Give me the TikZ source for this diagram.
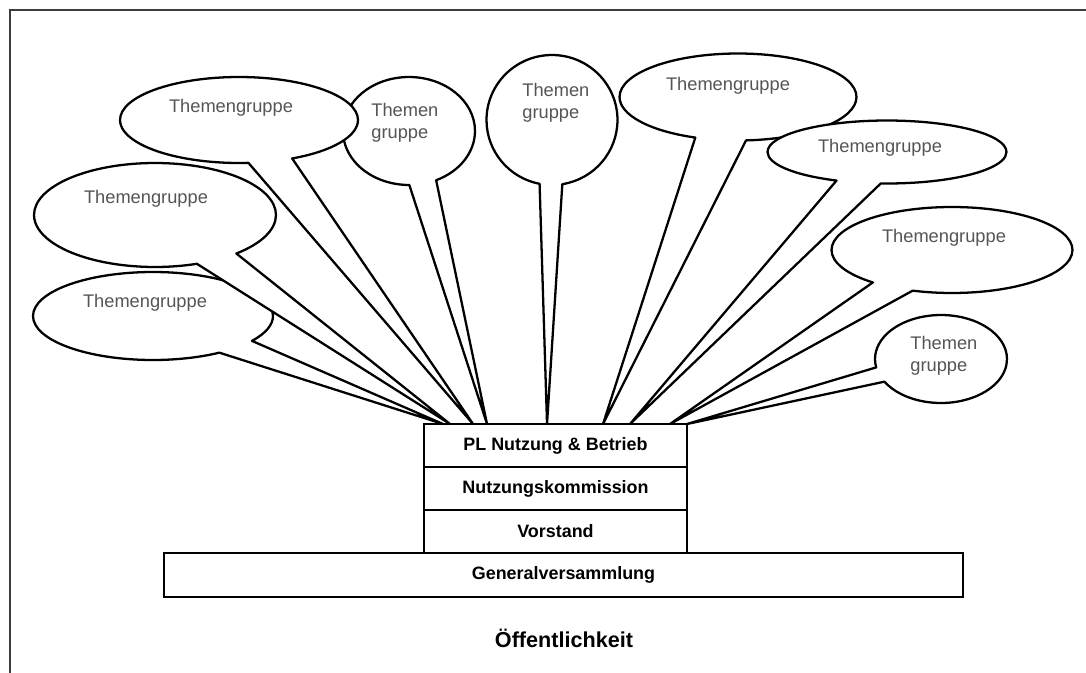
\documentclass[tikz,border=0pt]{standalone}
\usepackage{fontspec}
\setmainfont{Liberation Sans}
\usepackage{tikz}
\usetikzlibrary{shapes.callouts, positioning, calc}
\definecolor{tggray}{RGB}{85,85,85}
\definecolor{framegray}{RGB}{60,60,60}

\begin{document}
\begin{tikzpicture}[
    x=0.02cm, y=-0.02cm,
    topic/.style={ellipse callout, draw, fill=white, line width=1.3pt, line join=round},
    topictext/.style={inner sep=0pt, align=left, text=tggray, font=\fontsize{10.4}{12.5}\selectfont},
    level/.style={draw, line width=1.2pt, outer sep=0pt, minimum width=5.26cm, minimum height=0.86cm, font=\fontsize{10.2}{12}\selectfont\bfseries}
]
    \useasboundingbox (0,0) rectangle (1086,673);
    % Frame
    \draw[line width=1.2pt, framegray] (10,673) -- (10,10) -- (1086,10);

    % Levels
    \node[level] (pl) at (555.5,445.5) {PL Nutzung \& Betrieb};
    \node[level, below=0pt of pl] (nk) {Nutzungskommission};
    \node[level, below=0pt of nk] (vs) {Vorstand};
    \node[level, below=0pt of vs, xshift=0.16cm, minimum width=15.98cm, minimum height=0.88cm] (gv) {Generalversammlung};
    \node[font=\fontsize{12.3}{14}\selectfont\bfseries] (oe) at (564,638) {Öffentlichkeit};

    % Themengruppen, left side
    \node[topic, minimum width=4.8cm, minimum height=1.76cm, callout pointer arc=22,
        callout absolute pointer={($(pl.north west)+(19,0)$)}] (tgA) at (153,316) {};
    \node[topictext] (tgAtext) at (145,303) {Themengruppe};

    \node[topic, minimum width=4.84cm, minimum height=2.08cm, callout pointer arc=22,
        callout absolute pointer={($(pl.north west)+(26,0)$)}] (tgB) at (155,215) {};
    \node[topictext] (tgBtext) at (146,199) {Themengruppe};

    \node[topic, minimum width=2.64cm, minimum height=2.16cm, callout pointer arc=24,
        callout absolute pointer={($(pl.north west)+(63,0)$)}] (tgD) at (409,131) {};
    \node[topictext, anchor=west] (tgDtext) at (371,123) {Themen\\gruppe};

    \node[topic, minimum width=4.76cm, minimum height=1.72cm, callout pointer arc=22,
        callout absolute pointer={($(pl.north west)+(49,0)$)}] (tgC) at (239,120) {};
    \node[topictext] (tgCtext) at (231,108) {Themengruppe};

    % Themengruppen, middle and right side
    \node[topic, minimum width=2.62cm, minimum height=2.6cm, callout pointer arc=20,
        callout absolute pointer={($(pl.north west)+(123,0)$)}] (tgE) at (552,120) {};
    \node[topictext, anchor=west] (tgEtext) at (522,102.5) {Themen\\gruppe};

    \node[topic, minimum width=4.74cm, minimum height=1.74cm, callout pointer arc=25,
        callout absolute pointer={($(pl.north west)+(179,0)$)}] (tgF) at (738,97) {};
    \node[topictext] (tgFtext) at (728,86) {Themengruppe};

    \node[topic, minimum width=4.78cm, minimum height=1.26cm, callout pointer arc=22,
        callout absolute pointer={($(pl.north west)+(206,0)$)}] (tgG) at (887,152) {};
    \node[topictext] (tgGtext) at (880,148) {Themengruppe};

    \node[topic, minimum width=4.82cm, minimum height=1.72cm, callout pointer arc=22,
        callout absolute pointer={($(pl.north west)+(246,0)$)}] (tgH) at (952,250) {};
    \node[topictext] (tgHtext) at (944,238) {Themengruppe};

    \node[topic, minimum width=2.64cm, minimum height=1.76cm, callout pointer arc=20,
        callout absolute pointer={(pl.north east)}] (tgI) at (941,359) {};
    \node[topictext, anchor=west] (tgItext) at (910,356) {Themen\\gruppe};
\end{tikzpicture}
\end{document}
